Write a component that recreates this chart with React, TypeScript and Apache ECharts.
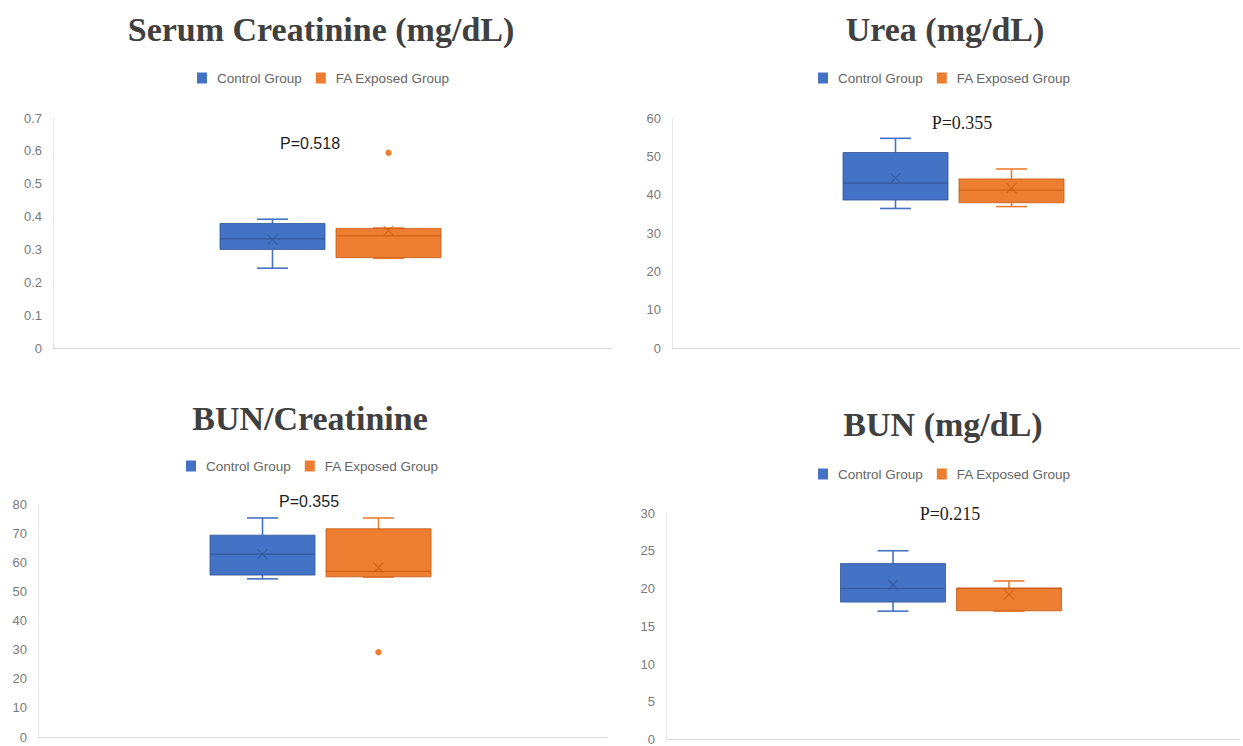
import React, { useEffect, useRef } from 'react';
import * as echarts from 'echarts';

// ---------- data ----------
const panelTitles = ['Serum Creatinine (mg/dL)', 'Urea (mg/dL)', 'BUN/Creatinine', 'BUN (mg/dL)'];
const groupNames = ['Control Group', 'FA Exposed Group'];
const pLabels = ['P=0.518', 'P=0.355', 'P=0.355', 'P=0.215'];
const yMaxes = [0.7, 60, 80, 30];
const yIntervals = [0.1, 10, 10, 5];
// each row: [min, q1, median, q3, max, mean]
const controlStats = [
  [0.243, 0.3, 0.332, 0.379, 0.392, 0.33],
  [36.4, 38.6, 43.0, 51.0, 54.7, 44.3],
  [54.3, 55.6, 62.8, 69.3, 75.2, 62.8],
  [17.0, 18.2, 20.0, 23.3, 25.0, 20.5],
];
const faStats = [
  [0.273, 0.275, 0.341, 0.364, 0.365, 0.357],
  [36.9, 37.9, 41.2, 44.1, 46.7, 41.7],
  [54.9, 55.0, 56.9, 71.5, 75.2, 58.1],
  [17.0, 17.05, 20.0, 20.08, 21.0, 19.2],
];
const controlOutliers = [[], [], [], []] as number[][];
const faOutliers = [[0.594], [], [29.1], []] as number[][];

// ---------- layout / style ----------
const grids = [
  { left: 53, top: 118, width: 559, height: 230 },
  { left: 672, top: 118, width: 567, height: 230 },
  { left: 38, top: 504, width: 569, height: 233 },
  { left: 666, top: 513, width: 574, height: 230 },
];
const titlePos = [[321, 29], [945, 29], [310, 418], [943, 424]];
const legendPos = [[197, 71], [818, 71], [186, 459], [818, 467]];
const pPos = [[310, 143], [962, 123], [309, 501], [950, 514]];
const pSerif = [false, true, false, true];
const colors = ['#4472C4', '#ED7D31'];
const darkColors = ['#2F5597', '#C55A11'];
const offsets = [-60, 56];
const BOX_W = 105;
const CAP_W = 31;

const sansFont = "'Liberation Sans', Arial, sans-serif";
const serifFont = "'Liberation Serif', 'Times New Roman', serif";

function boxRender(gi: number) {
  return (params: any, api: any) => {
    const cat = api.value(0);
    const cx = api.coord([cat, api.value(1)])[0] + offsets[gi];
    const y = (i: number) => api.coord([cat, api.value(i)])[1];
    const yMin = y(1), yQ1 = y(2), yMed = y(3), yQ3 = y(4), yMax = y(5), yMean = y(6);
    const c = colors[gi];
    const d = darkColors[gi];
    const half = BOX_W / 2;
    const cap = CAP_W / 2;
    const wStyle = { stroke: c, lineWidth: 1.6 };
    return {
      type: 'group',
      children: [
        { type: 'line', shape: { x1: cx, y1: yMax, x2: cx, y2: yQ3 }, style: wStyle },
        { type: 'line', shape: { x1: cx, y1: yQ1, x2: cx, y2: yMin }, style: wStyle },
        { type: 'line', shape: { x1: cx - cap, y1: yMax, x2: cx + cap, y2: yMax }, style: wStyle },
        { type: 'line', shape: { x1: cx - cap, y1: yMin, x2: cx + cap, y2: yMin }, style: wStyle },
        {
          type: 'rect',
          shape: { x: cx - half, y: yQ3, width: BOX_W, height: yQ1 - yQ3 },
          style: { fill: c, stroke: d, lineWidth: 0.8 },
        },
        { type: 'line', shape: { x1: cx - half, y1: yMed, x2: cx + half, y2: yMed }, style: { stroke: d, lineWidth: 1.2, opacity: 0.8 } },
        { type: 'line', shape: { x1: cx - 5, y1: yMean - 5, x2: cx + 5, y2: yMean + 5 }, style: { stroke: d, lineWidth: 1.2, opacity: 0.6 } },
        { type: 'line', shape: { x1: cx - 5, y1: yMean + 5, x2: cx + 5, y2: yMean - 5 }, style: { stroke: d, lineWidth: 1.2, opacity: 0.6 } },
      ],
    };
  };
}

function outlierRender(gi: number) {
  return (params: any, api: any) => {
    const p = api.coord([api.value(0), api.value(1)]);
    return {
      type: 'circle',
      shape: { cx: p[0] + offsets[gi], cy: p[1], r: 3.2 },
      style: { fill: colors[gi] },
    };
  };
}

function buildOption() {
  const xAxis: any[] = [];
  const yAxis: any[] = [];
  const series: any[] = [];
  const legend: any[] = [];
  const graphic: any[] = [];
  const statsByGroup = [controlStats, faStats];
  const outByGroup = [controlOutliers, faOutliers];

  grids.forEach((g, i) => {
    xAxis.push({
      type: 'category',
      gridIndex: i,
      data: [''],
      axisLine: { show: true, lineStyle: { color: '#D9D9D9', width: 1.2 } },
      axisTick: { show: false },
      axisLabel: { show: false },
      splitLine: { show: false },
    });
    yAxis.push({
      type: 'value',
      gridIndex: i,
      min: 0,
      max: yMaxes[i],
      interval: yIntervals[i],
      axisLine: { show: true, lineStyle: { color: '#E6E6E6' } },
      axisTick: { show: false },
      splitLine: { show: false },
      axisLabel: { color: '#7a7a7a', fontSize: 13, fontFamily: sansFont, margin: 11 },
    });
    [0, 1].forEach((gi) => {
      series.push({
        name: groupNames[gi],
        type: 'custom',
        xAxisIndex: i,
        yAxisIndex: i,
        itemStyle: { color: colors[gi] },
        encode: { x: 0, y: [1, 2, 3, 4, 5, 6] },
        renderItem: boxRender(gi),
        data: [[0, ...statsByGroup[gi][i]]],
        z: 2,
      });
      const outs = outByGroup[gi][i];
      if (outs.length) {
        series.push({
          name: groupNames[gi],
          type: 'custom',
          xAxisIndex: i,
          yAxisIndex: i,
          itemStyle: { color: colors[gi] },
          encode: { x: 0, y: 1 },
          renderItem: outlierRender(gi),
          data: outs.map((v) => [0, v]),
          z: 3,
        });
      }
    });
    legend.push({
      data: groupNames,
      left: legendPos[i][0],
      top: legendPos[i][1],
      padding: 0,
      icon: 'rect',
      itemWidth: 10,
      itemHeight: 11,
      itemGap: 14,
      selectedMode: false,
      textStyle: { color: '#666666', fontSize: 13.5, fontFamily: sansFont, padding: [0, 0, 0, 5] },
    });
    graphic.push({
      type: 'text',
      x: titlePos[i][0],
      y: titlePos[i][1],
      style: {
        text: panelTitles[i],
        fill: '#404040',
        font: `bold 34px ${serifFont}`,
        align: 'center',
        verticalAlign: 'middle',
      },
    });
    graphic.push({
      type: 'text',
      x: pPos[i][0],
      y: pPos[i][1],
      style: {
        text: pLabels[i],
        fill: '#1f1f1f',
        font: pSerif[i] ? `18px ${serifFont}` : `16px ${sansFont}`,
        align: 'center',
        verticalAlign: 'middle',
      },
    });
  });

  return {
    animation: false,
    backgroundColor: '#ffffff',
    grid: grids.map((g) => ({ ...g, containLabel: false })),
    xAxis,
    yAxis,
    legend,
    series,
    graphic,
  };
}

export default function App() {
  const ref = useRef<HTMLDivElement>(null);
  useEffect(() => {
    if (!ref.current) return;
    const chart = echarts.init(ref.current, null, { renderer: 'svg' });
    chart.setOption(buildOption() as any);
    return () => chart.dispose();
  }, []);
  return (
    <div
      ref={ref}
      style={{ position: 'fixed', left: 0, top: 0, width: 1243, height: 746, background: '#fff' }}
    />
  );
}
